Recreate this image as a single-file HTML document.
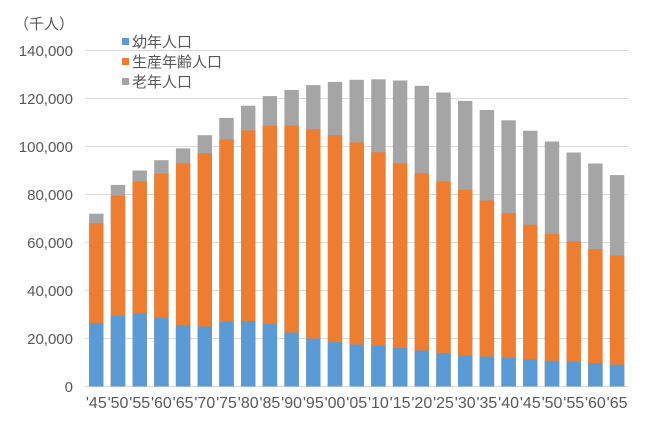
<!DOCTYPE html>
<html><head><meta charset="utf-8"><style>html,body{margin:0;padding:0;background:#fff}</style></head>
<body>
<svg width="648" height="423" xmlns="http://www.w3.org/2000/svg" font-family="Liberation Sans, Noto Sans CJK JP, sans-serif">
<g stroke="#d9d9d9" stroke-width="1">
<line x1="85" x2="628" y1="50.5" y2="50.5"/><line x1="85" x2="628" y1="98.5" y2="98.5"/><line x1="85" x2="628" y1="146.5" y2="146.5"/><line x1="85" x2="628" y1="194.5" y2="194.5"/><line x1="85" x2="628" y1="242.5" y2="242.5"/><line x1="85" x2="628" y1="290.5" y2="290.5"/><line x1="85" x2="628" y1="338.5" y2="338.5"/><line x1="85" x2="628" y1="386.5" y2="386.5"/>
</g>
<g font-size="15" fill="#595959" text-anchor="end">
<text x="73" y="56">140,000</text><text x="73" y="104">120,000</text><text x="73" y="152">100,000</text><text x="73" y="200">80,000</text><text x="73" y="248">60,000</text><text x="73" y="296">40,000</text><text x="73" y="344">20,000</text><text x="73" y="392">0</text>
</g>
<text x="14" y="29" font-size="15" fill="#595959">（千人）</text>
<g fill="#a5a5a5">
<rect x="89.1" y="213.7" width="14.4" height="172.8"/><rect x="110.8" y="184.9" width="14.4" height="201.6"/><rect x="132.5" y="170.5" width="14.4" height="216"/><rect x="154.2" y="160.2" width="14.4" height="226.3"/><rect x="175.9" y="148.4" width="14.4" height="238.1"/><rect x="197.6" y="135.2" width="14.4" height="251.3"/><rect x="219.3" y="117.9" width="14.4" height="268.6"/><rect x="241" y="105.7" width="14.4" height="280.8"/><rect x="262.7" y="96.1" width="14.4" height="290.4"/><rect x="284.4" y="89.9" width="14.4" height="296.6"/><rect x="306.1" y="85.1" width="14.4" height="301.4"/><rect x="327.8" y="81.9" width="14.4" height="304.6"/><rect x="349.5" y="79.8" width="14.4" height="306.7"/><rect x="371.2" y="79.3" width="14.4" height="307.2"/><rect x="392.9" y="80.5" width="14.4" height="306"/><rect x="414.6" y="85.8" width="14.4" height="300.7"/><rect x="436.3" y="92.5" width="14.4" height="294"/><rect x="458" y="100.9" width="14.4" height="285.6"/><rect x="479.7" y="110" width="14.4" height="276.5"/><rect x="501.4" y="120.3" width="14.4" height="266.2"/><rect x="523.1" y="130.7" width="14.4" height="255.8"/><rect x="544.8" y="141.5" width="14.4" height="245"/><rect x="566.5" y="152.5" width="14.4" height="234"/><rect x="588.2" y="163.5" width="14.4" height="223"/><rect x="609.9" y="175.1" width="14.4" height="211.4"/>
</g>
<g fill="#ed7d31">
<rect x="89.1" y="223.3" width="14.4" height="163.2"/><rect x="110.8" y="195.7" width="14.4" height="190.8"/><rect x="132.5" y="181.3" width="14.4" height="205.2"/><rect x="154.2" y="173.6" width="14.4" height="212.9"/><rect x="175.9" y="163.3" width="14.4" height="223.2"/><rect x="197.6" y="153.2" width="14.4" height="233.3"/><rect x="219.3" y="139.3" width="14.4" height="247.2"/><rect x="241" y="130.4" width="14.4" height="256.1"/><rect x="262.7" y="125.9" width="14.4" height="260.6"/><rect x="284.4" y="125.6" width="14.4" height="260.9"/><rect x="306.1" y="129.2" width="14.4" height="257.3"/><rect x="327.8" y="135" width="14.4" height="251.5"/><rect x="349.5" y="142.4" width="14.4" height="244.1"/><rect x="371.2" y="152.3" width="14.4" height="234.2"/><rect x="392.9" y="163.3" width="14.4" height="223.2"/><rect x="414.6" y="173.1" width="14.4" height="213.4"/><rect x="436.3" y="181.3" width="14.4" height="205.2"/><rect x="458" y="189.7" width="14.4" height="196.8"/><rect x="479.7" y="200.5" width="14.4" height="186"/><rect x="501.4" y="213.2" width="14.4" height="173.3"/><rect x="523.1" y="224.7" width="14.4" height="161.8"/><rect x="544.8" y="233.9" width="14.4" height="152.6"/><rect x="566.5" y="241.3" width="14.4" height="145.2"/><rect x="588.2" y="249.2" width="14.4" height="137.3"/><rect x="609.9" y="255.5" width="14.4" height="131"/>
</g>
<g fill="#5b9bd5">
<rect x="89.1" y="322.9" width="14.4" height="63.6"/><rect x="110.8" y="315.7" width="14.4" height="70.8"/><rect x="132.5" y="313.3" width="14.4" height="73.2"/><rect x="154.2" y="318.1" width="14.4" height="68.4"/><rect x="175.9" y="325.3" width="14.4" height="61.2"/><rect x="197.6" y="326.5" width="14.4" height="60"/><rect x="219.3" y="321.7" width="14.4" height="64.8"/><rect x="241" y="321" width="14.4" height="65.5"/><rect x="262.7" y="324.1" width="14.4" height="62.4"/><rect x="284.4" y="332.5" width="14.4" height="54"/><rect x="306.1" y="338.5" width="14.4" height="48"/><rect x="327.8" y="342.1" width="14.4" height="44.4"/><rect x="349.5" y="344.5" width="14.4" height="42"/><rect x="371.2" y="345.7" width="14.4" height="40.8"/><rect x="392.9" y="348.1" width="14.4" height="38.4"/><rect x="414.6" y="350.5" width="14.4" height="36"/><rect x="436.3" y="352.9" width="14.4" height="33.6"/><rect x="458" y="355.3" width="14.4" height="31.2"/><rect x="479.7" y="356.5" width="14.4" height="30"/><rect x="501.4" y="357.7" width="14.4" height="28.8"/><rect x="523.1" y="359.4" width="14.4" height="27.1"/><rect x="544.8" y="360.8" width="14.4" height="25.7"/><rect x="566.5" y="361.8" width="14.4" height="24.7"/><rect x="588.2" y="363" width="14.4" height="23.5"/><rect x="609.9" y="364.7" width="14.4" height="21.8"/>
</g>
<g font-size="15" fill="#595959">
<rect x="122" y="38" width="7" height="7" fill="#5b9bd5"/><text x="132" y="47">幼年人口</text>
<rect x="122" y="58" width="7" height="7" fill="#ed7d31"/><text x="132" y="67">生産年齢人口</text>
<rect x="122" y="78" width="7" height="7" fill="#a5a5a5"/><text x="132" y="87">老年人口</text>
</g>
<g font-size="16" fill="#595959" text-anchor="middle">
<text x="96.3" y="408">'45</text><text x="118" y="408">'50</text><text x="139.7" y="408">'55</text><text x="161.4" y="408">'60</text><text x="183.1" y="408">'65</text><text x="204.8" y="408">'70</text><text x="226.5" y="408">'75</text><text x="248.2" y="408">'80</text><text x="269.9" y="408">'85</text><text x="291.6" y="408">'90</text><text x="313.3" y="408">'95</text><text x="335" y="408">'00</text><text x="356.7" y="408">'05</text><text x="378.4" y="408">'10</text><text x="400.1" y="408">'15</text><text x="421.8" y="408">'20</text><text x="443.5" y="408">'25</text><text x="465.2" y="408">'30</text><text x="486.9" y="408">'35</text><text x="508.6" y="408">'40</text><text x="530.3" y="408">'45</text><text x="552" y="408">'50</text><text x="573.7" y="408">'55</text><text x="595.4" y="408">'60</text><text x="617.1" y="408">'65</text>
</g>
</svg>
</body></html>
